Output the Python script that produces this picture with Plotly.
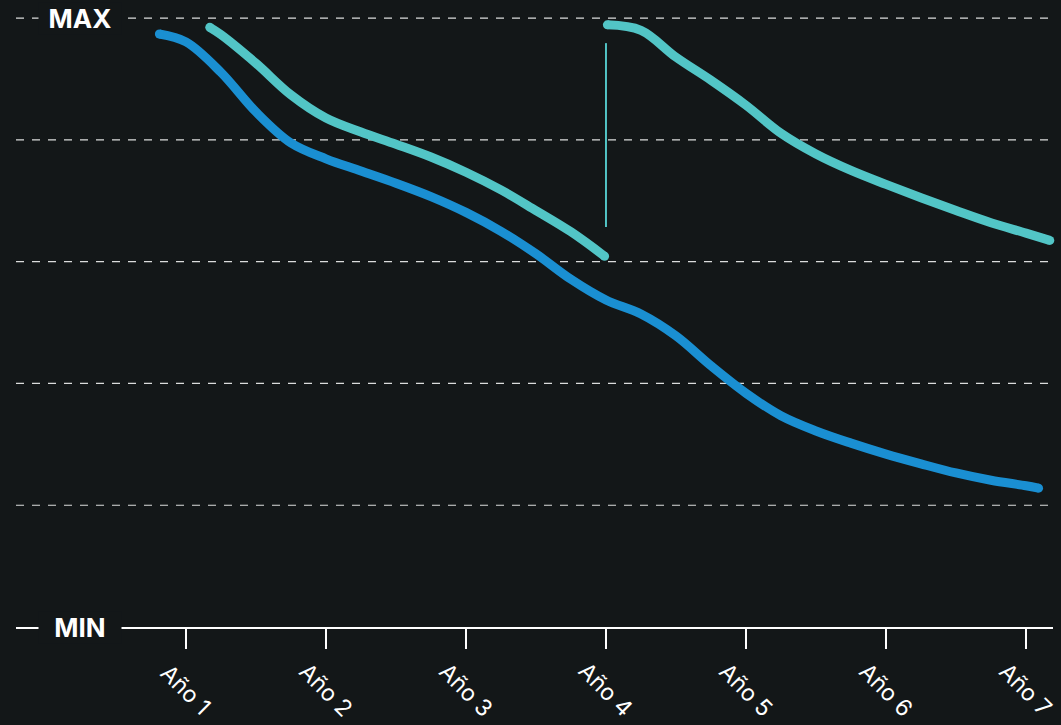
import plotly.graph_objects as go

# ---- data (year position, value on 0=MIN .. 100=MAX scale) ----
blue_x = [0.81, 1.0, 1.25, 1.5, 1.75, 2.0, 2.25, 2.5, 2.75, 3.0, 3.25, 3.5, 3.75, 4.0,
          4.25, 4.5, 4.75, 5.0, 5.25, 5.5, 5.75, 6.0, 6.25, 6.5, 6.75, 7.0, 7.09]
blue_y = [97.4, 96.1, 91.1, 84.6, 79.5, 76.9, 74.9, 72.9, 70.7, 68.1, 65.0, 61.3, 57.1, 53.7,
          51.4, 47.8, 42.9, 38.4, 34.7, 32.2, 30.2, 28.4, 26.8, 25.3, 24.1, 23.2, 22.8]

teal1_x = [1.17, 1.25, 1.5, 1.75, 2.0, 2.25, 2.5, 2.75, 3.0, 3.25, 3.5, 3.75, 3.99]
teal1_y = [98.5, 97.3, 92.6, 87.4, 83.6, 81.3, 79.3, 77.2, 74.7, 71.8, 68.4, 64.9, 60.9]

teal2_x = [4.01, 4.25, 4.5, 4.75, 5.0, 5.25, 5.5, 5.75, 6.0, 6.25, 6.5, 6.75, 7.0, 7.17]
teal2_y = [98.9, 98.0, 93.6, 89.8, 85.7, 81.1, 77.7, 75.0, 72.7, 70.5, 68.4, 66.4, 64.7, 63.5]

marker_x = [4, 4]
marker_y = [95.9, 65.7]

tick_vals = [1, 2, 3, 4, 5, 6, 7]
tick_text = ["Año 1", "Año 2", "Año 3", "Año 4", "Año 5", "Año 6", "Año 7"]
grid_vals = [20, 40, 60, 80, 100]
y_labels = {"MAX": 100, "MIN": 0}

BG = "#131718"
BLUE = "#1a8fd2"
TEAL = "#52c5c6"
FONT = "Inter"

fig = go.Figure()

# dashed gridlines
for g in grid_vals:
    fig.add_shape(type="line", xref="paper", x0=0, x1=1, yref="y", y0=g, y1=g,
                  line=dict(color="rgba(255,255,255,0.85)", width=1.2, dash="8px,8px"),
                  layer="below")

fig.add_trace(go.Scatter(x=marker_x, y=marker_y, mode="lines",
                         line=dict(color=TEAL, width=2), hoverinfo="skip", showlegend=False))
for xs, ys, c in [(blue_x, blue_y, BLUE), (teal1_x, teal1_y, TEAL), (teal2_x, teal2_y, TEAL)]:
    fig.add_trace(go.Scatter(x=xs, y=ys, mode="lines",
                             line=dict(color=c, width=9, shape="spline", smoothing=1.0),
                             showlegend=False, cliponaxis=False))
    # round end caps
    fig.add_trace(go.Scatter(x=[xs[0], xs[-1]], y=[ys[0], ys[-1]], mode="markers",
                             marker=dict(color=c, size=9, line=dict(width=0)),
                             showlegend=False, hoverinfo="skip", cliponaxis=False))

# MAX / MIN labels
for txt, val in y_labels.items():
    fig.add_annotation(xref="paper", x=0.0617, yref="y", y=val, text="<b>%s</b>" % txt,
                       showarrow=False, xanchor="center", yanchor="middle",
                       font=dict(family=FONT, size=26, color="white"),
                       bgcolor=BG, borderpad=0, width=82)

# rotated x tick labels
for v, t in zip(tick_vals, tick_text):
    fig.add_annotation(xref="x", x=v, yref="paper", y=0, yshift=-63, text=t,
                       textangle=45, showarrow=False, xanchor="center", yanchor="middle",
                       font=dict(family=FONT, size=23, color="white"))

fig.update_layout(
    width=1061, height=725,
    paper_bgcolor=BG, plot_bgcolor=BG,
    margin=dict(l=16, r=8, t=6, b=98),
    xaxis=dict(range=[-0.214, 7.193], tickvals=tick_vals, ticktext=[""] * len(tick_vals),
               ticks="outside", ticklen=20, tickwidth=2, tickcolor="white",
               showline=True, linecolor="white", linewidth=2, showgrid=False,
               zeroline=False, fixedrange=True),
    yaxis=dict(range=[0, 102], showgrid=False, zeroline=False, showticklabels=False,
               showline=False, fixedrange=True),
)

fig.write_html("out.html", config={"displayModeBar": False})

with open("out.html", encoding="utf-8") as f:
    html = f.read()
html = html.replace("<head>", "<head><style>html,body{margin:0;padding:0;overflow:hidden;background:%s;}</style>" % BG, 1)
with open("out.html", "w", encoding="utf-8") as f:
    f.write(html)
